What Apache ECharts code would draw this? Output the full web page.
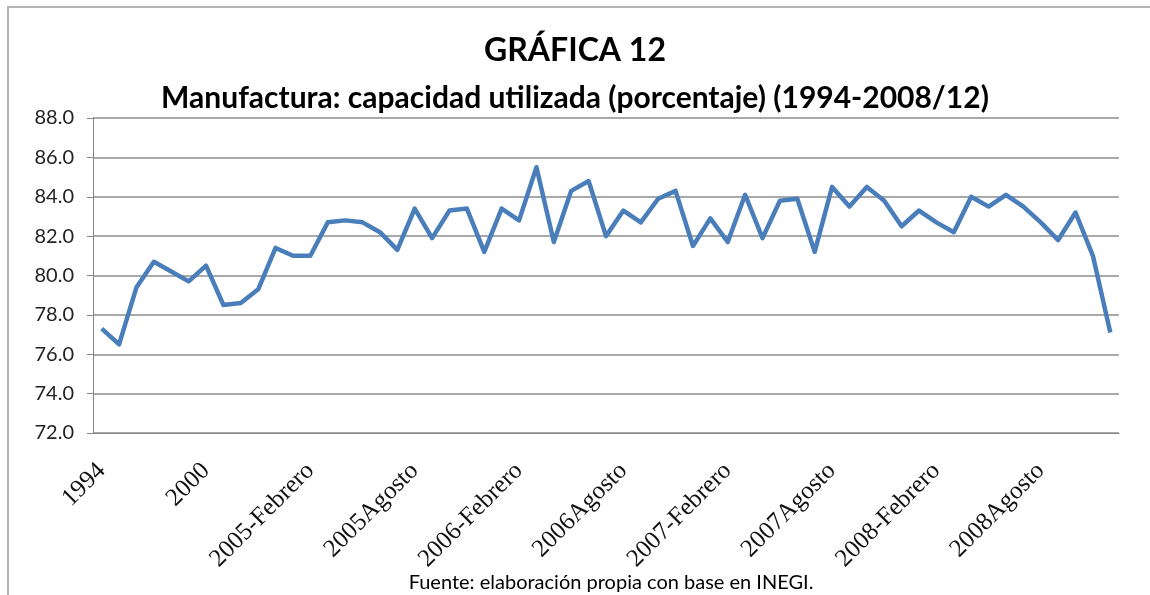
<!DOCTYPE html>
<html>
<head>
<meta charset="utf-8">
<script src="https://cdn.jsdelivr.net/npm/echarts@6/dist/echarts.min.js"></script>
<style>
  html, body { margin: 0; padding: 0; background: #fff; }
  #chart { width: 1150px; height: 595px; }
  .frame { position: absolute; left: 7px; top: 6px; width: 1200px; height: 700px; border-left: 2px solid #b5b5b5; border-top: 2px solid #b5b5b5; pointer-events: none; }
</style>
</head>
<body>
<div id="chart"></div>
<div class="frame"></div>
<script>
// categorias: anuales 1994-2004, luego mensuales 2005-2008
const years = ['1994', '1995', '1996', '1997', '1998', '1999', '2000', '2001', '2002', '2003', '2004']
const months = ['-Enero', '-Febrero', '-Marzo', '-Abril', '-Mayo', '-Junio', '-Julio', 'Agosto', '-Septiembre', '-Octubre', '-Noviembre', '-Diciembre']
const monthYears = ['2005', '2006', '2007', '2008']
const categories = years.concat(...monthYears.map(y => months.map(m => y + m)))

// capacidad utilizada (%)
const capacidad = [
  77.3, 76.5, 79.4, 80.7, 80.2, 79.7, 80.5, 78.5, 78.6, 79.3, 81.4,
  81.0, 81.0, 82.7, 82.8, 82.7, 82.2, 81.3, 83.4, 81.9, 83.3, 83.4, 81.2, 83.4,
  82.8, 85.5, 81.7, 84.3, 84.8, 82.0, 83.3, 82.7, 83.9, 84.3, 81.5, 82.9,
  81.7, 84.1, 81.9, 83.8, 83.9, 81.2, 84.5, 83.5, 84.5, 83.8, 82.5, 83.3,
  82.7, 82.2, 84.0, 83.5, 84.1, 83.5, 82.7, 81.8, 83.2, 81.0, 77.1
]

const yMin = 72
const yMax = 88
const yStep = 2

const chart = echarts.init(document.getElementById('chart'))
const option = {
  animation: false,
  backgroundColor: '#fff',
  title: [
    {
      text: 'GRÁFICA 12',
      left: 'center',
      top: 30,
      textStyle: { fontFamily: 'Lato', fontWeight: 'bold', fontSize: 32, color: '#000' }
    },
    {
      text: 'Manufactura: capacidad utilizada (porcentaje) (1994-2008/12)',
      left: 'center',
      top: 78,
      textStyle: { fontFamily: 'Lato', fontWeight: 'bold', fontSize: 30, color: '#000' }
    },
    {
      text: 'Fuente: elaboración propia con base en INEGI.',
      left: 606,
      textAlign: 'center',
      top: 568,
      textStyle: { fontFamily: 'Lato', fontWeight: 'normal', fontSize: 20, color: '#000' }
    }
  ],
  grid: {
    left: 93,
    right: 31,
    top: 118,
    bottom: 162
  },
  xAxis: {
    type: 'category',
    data: categories,
    boundaryGap: true,
    axisLine: { lineStyle: { color: '#868686', width: 1 } },
    axisTick: { interval: 5, length: 6, lineStyle: { color: '#868686' } },
    axisLabel: {
      interval: 5,
      rotate: 45,
      margin: 34,
      fontFamily: 'Liberation Serif',
      fontSize: 25,
      color: '#111'
    },
    splitLine: { show: false }
  },
  yAxis: {
    type: 'value',
    min: yMin,
    max: yMax,
    interval: yStep,
    axisLine: { show: true, lineStyle: { color: '#868686', width: 1 } },
    axisTick: { show: true, length: 6, lineStyle: { color: '#868686' } },
    axisLabel: {
      formatter: v => v.toFixed(1),
      margin: 19,
      fontFamily: 'Lato',
      fontSize: 20,
      color: '#222'
    },
    splitLine: { lineStyle: { color: '#8c8c8c', width: 1.5 } }
  },
  series: [
    {
      name: 'Capacidad utilizada',
      type: 'line',
      data: capacidad,
      symbol: 'none',
      lineStyle: { color: '#4a7ebb', width: 4.5, join: 'round' }
    }
  ]
}
chart.setOption(option)
</script>
</body>
</html>
